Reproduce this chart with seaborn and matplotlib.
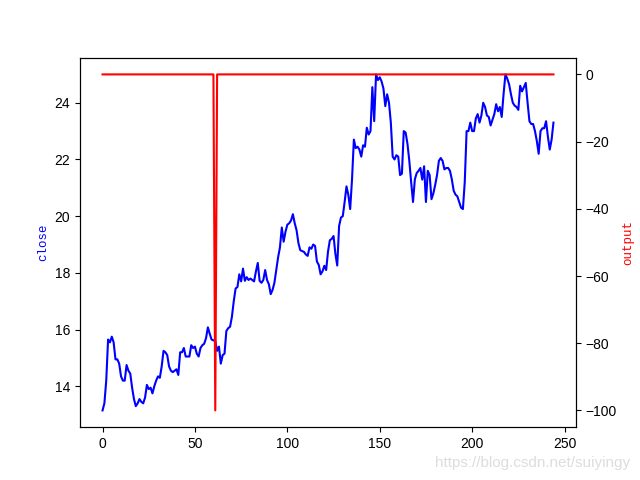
import numpy as np
import pandas as pd
import matplotlib
matplotlib.use('Agg')
import matplotlib.pyplot as plt
import seaborn as sns

# 收盘价
close = [
    13.15, 13.4, 14.2, 15.65, 15.55, 15.75, 15.55, 14.95, 14.95, 14.8,
    14.35, 14.2, 14.2, 14.75, 14.55, 14.45, 13.95, 13.55, 13.3, 13.4,
    13.55, 13.45, 13.4, 13.6, 14.05, 13.9, 13.95, 13.75, 14.0, 14.2,
    14.35, 14.3, 14.7, 15.25, 15.2, 15.1, 14.7, 14.55, 14.5, 14.55,
    14.6, 14.4, 15.2, 15.2, 15.35, 15.05, 15.05, 15.05, 15.45, 15.35,
    15.4, 15.15, 15.05, 15.35, 15.45, 15.5, 15.7, 16.08, 15.85, 15.65,
    15.62, 15.6, 15.25, 15.4, 14.8, 15.1, 15.15, 15.95, 16.05, 16.1,
    16.45, 17.0, 17.45, 17.5, 17.95, 17.7, 18.15, 17.72, 17.85, 17.75,
    17.8, 17.75, 17.7, 18.05, 18.35, 17.72, 17.65, 17.75, 18.1, 17.75,
    17.6, 17.25, 17.4, 17.65, 18.1, 18.55, 18.9, 19.6, 19.1, 19.45,
    19.7, 19.75, 19.85, 20.07, 19.75, 19.5, 19.05, 18.8, 18.77, 18.74,
    18.65, 18.6, 18.9, 18.85, 19.0, 18.95, 18.4, 18.28, 17.95, 18.05,
    18.25, 18.1, 18.75, 19.15, 19.2, 19.3, 18.67, 18.26, 19.65, 19.95,
    20.0, 20.5, 21.05, 20.75, 20.25, 21.3, 22.7, 22.4, 22.45, 22.35,
    22.1, 22.5, 22.45, 23.12, 22.88, 23.0, 24.55, 23.35, 25.0, 24.8,
    24.9, 24.75, 24.5, 23.88, 24.3, 24.0, 23.3, 22.1, 22.0, 22.15,
    22.1, 21.45, 21.5, 23.0, 22.95, 22.55, 21.95, 21.2, 20.5, 21.3,
    21.52, 21.6, 21.7, 21.29, 21.76, 20.5, 21.6, 21.45, 20.6, 20.8,
    21.1, 21.45, 21.95, 22.05, 21.95, 21.65, 21.7, 21.7, 21.6, 21.3,
    20.9, 20.76, 20.7, 20.5, 20.3, 20.25, 21.2, 23.0, 23.0, 23.3,
    23.0, 23.0, 23.45, 23.6, 23.3, 23.55, 24.0, 23.85, 23.55, 23.5,
    23.2, 23.4, 23.6, 23.95, 23.7, 23.85, 23.5, 24.3, 25.0, 24.85,
    24.65, 24.3, 24.0, 23.9, 23.85, 23.75, 24.6, 24.4, 24.55, 24.7,
    24.0, 23.35, 23.25, 23.25, 23.0, 22.65, 22.2, 23.0, 23.1, 23.1,
    23.35, 22.8, 22.35, 22.7, 23.3,
]

# 输出信号：只有一个点为 -100
spike_index = 61
spike_value = -100

output = [0] * len(close)
output[spike_index] = spike_value

df = pd.DataFrame({'index': np.arange(len(close)), 'close': close, 'output': output})

plt.rcParams['font.family'] = ['Liberation Sans', 'DejaVu Sans']

fig, ax1 = plt.subplots(figsize=(6.4, 4.8), dpi=100)

# 左轴：close
sns.lineplot(x='index', y='close', data=df, ax=ax1, color='b', linewidth=1.5)
ax1.set_xlabel('')
ax1.set_ylabel('close', color='b', family='Liberation Mono', fontsize=9)

# 右轴：output
ax2 = ax1.twinx()
sns.lineplot(x='index', y='output', data=df, ax=ax2, color='r', linewidth=1.5)
ax2.set_ylabel('output', color='r', family='Liberation Mono', fontsize=9)
ax1.set_xticks([0, 50, 100, 150, 200, 250])

# 水印
fig.text(0.985, 0.035, 'https://blog.csdn.net/suiyingy', ha='right', va='center',
         color='#dddddd', fontsize=11)

plt.savefig('out.png', dpi=100)
